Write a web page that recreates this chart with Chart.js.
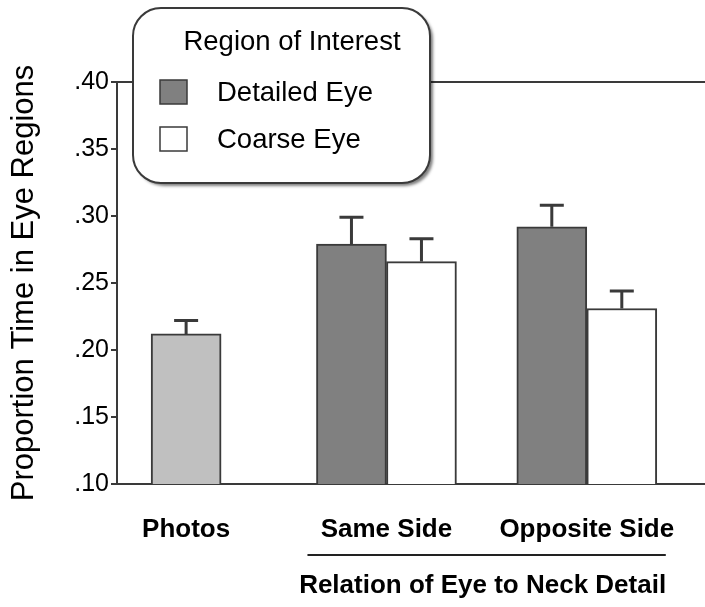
<!DOCTYPE html>
<html>
<head>
<meta charset="utf-8">
<script src="https://cdn.jsdelivr.net/npm/chart.js@4.4.1/dist/chart.umd.min.js"></script>
<style>
  html, body { margin: 0; padding: 0; background: #fff; }
  #wrap { width: 705px; height: 607px; }
</style>
</head>
<body>
<div id="wrap"><canvas id="eyeChart" width="705" height="607"></canvas></div>
<script>
// data
const categories = ['Photos', 'Same Side', 'Opposite Side'];
const photosValues = [0.212, null, null];
const photosErrors = [0.010, null, null];
const detailedValues = [null, 0.279, 0.292];
const detailedErrors = [null, 0.020, 0.016];
const coarseValues = [null, 0.266, 0.231];
const coarseErrors = [null, 0.017, 0.013];
const yTicks = [0.10, 0.15, 0.20, 0.25, 0.30, 0.35, 0.40];
const yTitle = 'Proportion Time in Eye Regions';
const groupTitle = 'Relation of Eye to Neck Detail';
const legendTitle = 'Region of Interest';

const FONT = "'Liberation Sans', Arial, sans-serif";
const INK = '#3a3a3a';

Chart.defaults.font.family = FONT;
Chart.defaults.color = '#000';

const toPoints = (vals) => vals.map((v, i) => ({ x: i, y: v }));

// error bars (upper half only, like the original)
const errorBars = {
  id: 'errorBars',
  afterDatasetsDraw(chart) {
    const ctx = chart.ctx;
    const y = chart.scales.y;
    ctx.save();
    ctx.strokeStyle = INK;
    ctx.lineWidth = 3;
    chart.data.datasets.forEach((ds, di) => {
      const meta = chart.getDatasetMeta(di);
      ds.errors.forEach((err, i) => {
        const v = ds.data[i].y;
        if (v === null || err === null) return;
        const bar = meta.data[i];
        const top = y.getPixelForValue(v + err);
        ctx.beginPath();
        ctx.moveTo(bar.x, bar.y);
        ctx.lineTo(bar.x, top);
        ctx.moveTo(bar.x - 12, top);
        ctx.lineTo(bar.x + 12, top);
        ctx.stroke();
      });
    });
    ctx.restore();
  }
};

// bracket under the two grouped categories + its caption
const groupLabel = {
  id: 'groupLabel',
  afterDraw(chart) {
    const ctx = chart.ctx;
    const first = chart.getDatasetMeta(1).data[1];
    const last = chart.getDatasetMeta(2).data[2];
    const x1 = first.x - first.width / 2 - 9;
    const x2 = last.x + last.width / 2 + 9;
    ctx.save();
    ctx.strokeStyle = '#222';
    ctx.lineWidth = 2;
    ctx.beginPath();
    ctx.moveTo(x1, 555);
    ctx.lineTo(x2, 555);
    ctx.stroke();
    ctx.fillStyle = '#000';
    ctx.font = 'bold 26px ' + FONT;
    ctx.textAlign = 'center';
    ctx.textBaseline = 'middle';
    ctx.fillText(groupTitle, (x1 + x2) / 2 - 4, 586);
    ctx.restore();
  }
};

// rounded legend box
const legendBox = {
  id: 'legendBox',
  afterDraw(chart) {
    const ctx = chart.ctx;
    const bx = 133, by = 8, bw = 297, bh = 175, r = 28;
    ctx.save();
    ctx.beginPath();
    ctx.roundRect(bx, by, bw, bh, r);
    ctx.shadowColor = 'rgba(0,0,0,0.5)';
    ctx.shadowOffsetX = 3;
    ctx.shadowOffsetY = 3;
    ctx.shadowBlur = 3;
    ctx.fillStyle = '#fff';
    ctx.fill();
    ctx.shadowColor = 'transparent';
    ctx.strokeStyle = INK;
    ctx.lineWidth = 2;
    ctx.stroke();

    ctx.fillStyle = '#000';
    ctx.textBaseline = 'middle';
    ctx.textAlign = 'center';
    ctx.font = '27.5px ' + FONT;
    ctx.fillText(legendTitle, 292, 42);

    ctx.textAlign = 'left';
    [1, 2].forEach((di, k) => {
      const ds = chart.data.datasets[di];
      const cy = 92 + k * 47;
      ctx.fillStyle = ds.backgroundColor;
      ctx.fillRect(160, cy - 12, 27, 24);
      ctx.strokeStyle = INK;
      ctx.lineWidth = 1.5;
      ctx.strokeRect(160, cy - 12, 27, 24);
      ctx.fillStyle = '#000';
      ctx.fillText(ds.label, 217, cy + 1);
    });
    ctx.restore();
  }
};

const barCommon = {
  borderColor: INK,
  borderWidth: 2,
  borderSkipped: false,
  barThickness: 70,
  skipNull: true
};

new Chart(document.getElementById('eyeChart'), {
  type: 'bar',
  data: {
    datasets: [
      Object.assign({ label: 'Photos', data: toPoints(photosValues), errors: photosErrors, backgroundColor: '#c0c0c0' }, barCommon),
      Object.assign({ label: 'Detailed Eye', data: toPoints(detailedValues), errors: detailedErrors, backgroundColor: '#808080' }, barCommon),
      Object.assign({ label: 'Coarse Eye', data: toPoints(coarseValues), errors: coarseErrors, backgroundColor: '#ffffff' }, barCommon)
    ]
  },
  options: {
    responsive: false,
    animation: false,
    devicePixelRatio: 1,
    layout: { padding: { top: 82, left: 0, right: 0, bottom: 0 } },
    plugins: {
      legend: { display: false },
      tooltip: { enabled: false }
    },
    scales: {
      x: {
        type: 'linear',
        offset: false,
        min: -0.345,
        max: 2.59,
        afterBuildTicks(scale) {
          scale.ticks = categories.map((c, i) => ({ value: i }));
        },
        afterFit(scale) { scale.height = 123; },
        grid: { display: false, drawTicks: false, offset: false },
        border: { display: true, color: INK, width: 2 },
        ticks: {
          padding: 30,
          font: { size: 26, weight: 'bold' },
          color: '#000',
          callback: (v) => categories[v]
        }
      },
      y: {
        min: 0.10,
        max: 0.40,
        afterBuildTicks(scale) {
          scale.ticks = yTicks.map(v => ({ value: v }));
        },
        afterFit(scale) { scale.width = 117; },
        grid: {
          color: (c) => (c.tick && Math.abs(c.tick.value - 0.40) < 1e-6) ? INK : 'rgba(0,0,0,0)',
          tickColor: INK,
          tickLength: 6,
          lineWidth: 2
        },
        border: { display: true, color: INK, width: 2 },
        ticks: {
          padding: 2,
          font: { size: 25 },
          color: '#000',
          callback: (v) => v.toFixed(2).replace(/^0/, '')
        },
        title: {
          display: true,
          text: yTitle,
          font: { size: 31 },
          color: '#000',
          padding: { top: 6, bottom: 0 }
        }
      }
    }
  },
  plugins: [errorBars, groupLabel, legendBox]
});
</script>
</body>
</html>
